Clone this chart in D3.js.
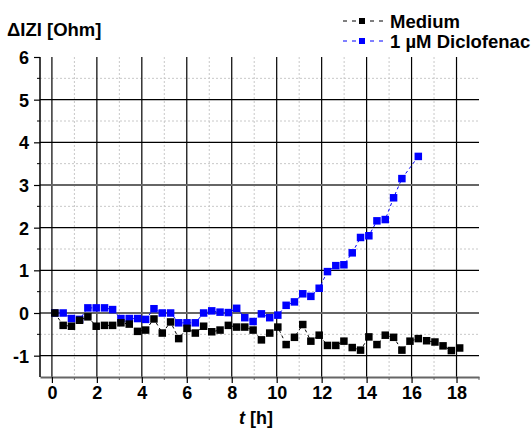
<!DOCTYPE html>
<html>
<head>
<meta charset="utf-8">
<script src="https://cdnjs.cloudflare.com/ajax/libs/d3/7.8.5/d3.min.js"></script>
<style>
	html, body { margin: 0; padding: 0; background: #fff; }
	svg text { font-family: Arial, "Liberation Sans", sans-serif; font-weight: bold; }
</style>
</head>
<body>
<div id="chart"></div>
<script>
// time points [h]
const times = [0.13, 0.50, 0.87, 1.23, 1.60, 1.97, 2.34, 2.70, 3.07, 3.44,
	3.81, 4.17, 4.54, 4.91, 5.28, 5.64, 6.01, 6.38, 6.75, 7.11,
	7.48, 7.85, 8.22, 8.58, 8.95, 9.32, 9.69, 10.05, 10.42, 10.79,
	11.16, 11.52, 11.89, 12.26, 12.63, 12.99, 13.36, 13.73, 14.10, 14.46,
	14.83, 15.20, 15.57, 15.93, 16.30, 16.67, 17.04, 17.40, 17.77, 18.14];

// delta |Z| [Ohm], Medium
const medium = [0, -0.29, -0.31, -0.17, -0.09, -0.31, -0.29, -0.29, -0.23, -0.26,
	-0.43, -0.40, -0.14, -0.47, -0.21, -0.60, -0.36, -0.47, -0.31, -0.44,
	-0.40, -0.29, -0.33, -0.33, -0.40, -0.63, -0.47, -0.33, -0.74, -0.57,
	-0.27, -0.66, -0.52, -0.76, -0.76, -0.66, -0.81, -0.87, -0.56, -0.74,
	-0.52, -0.57, -0.87, -0.66, -0.60, -0.65, -0.68, -0.77, -0.88, -0.82];

// delta |Z| [Ohm], 1 µM Diclofenac (no value at 15.93 h, ends at 16.30 h)
const diclofenac = [0, 0, -0.13, -0.15, 0.12, 0.12, 0.12, 0.08, -0.13, -0.13,
	-0.13, -0.15, 0.10, 0, 0, -0.23, -0.23, -0.23, 0, 0.05,
	0.02, 0.01, 0.11, -0.11, -0.20, -0.02, -0.11, -0.05, 0.18, 0.26,
	0.45, 0.39, 0.58, 0.97, 1.11, 1.13, 1.41, 1.77, 1.81, 2.16,
	2.19, 2.70, 3.15, null, 3.67];

const seriesNames = ['Medium', '1 µM Diclofenac'];
const seriesColors = ['#000000', '#0000ff'];

const xTicks = [0, 2, 4, 6, 8, 10, 12, 14, 16, 18];
const xMinorTicks = [1, 3, 5, 7, 9, 11, 13, 15, 17, 19];
const yTicks = [-1, 0, 1, 2, 3, 4, 5, 6];
const yMinorTicks = [-0.5, 0.5, 1.5, 2.5, 3.5, 4.5, 5.5];

const width = 532, height = 428;
const margin = {left: 40, right: 53, top: 57, bottom: 51};
const plotW = width - margin.left - margin.right,
	plotH = height - margin.top - margin.bottom;

const x = d3.scaleLinear().domain([-0.53, 19]).range([0, plotW]);
const y = d3.scaleLinear().domain([-1.5, 6]).range([plotH, 0]);

const svg = d3.select('#chart').append('svg')
	.attr('width', width)
	.attr('height', height);

const g = svg.append('g')
	.attr('transform', 'translate(' + margin.left + ',' + margin.top + ')');

// minor grid, dotted
g.append('g').selectAll('line').data(xMinorTicks.filter(d => d < 19)).join('line')
	.attr('x1', d => x(d)).attr('x2', d => x(d))
	.attr('y1', 0).attr('y2', plotH)
	.attr('stroke', '#c8c8c8').attr('stroke-dasharray', '2,2');
g.append('g').selectAll('line').data(yMinorTicks).join('line')
	.attr('x1', 0).attr('x2', plotW)
	.attr('y1', d => y(d)).attr('y2', d => y(d))
	.attr('stroke', '#c8c8c8').attr('stroke-dasharray', '2,2');

// major grid
g.append('g').selectAll('line').data(xTicks).join('line')
	.attr('x1', d => x(d)).attr('x2', d => x(d))
	.attr('y1', 0).attr('y2', plotH)
	.attr('stroke', '#000').attr('stroke-width', 1.2);
g.append('g').selectAll('line').data(yTicks.filter(d => d < 6)).join('line')
	.attr('x1', 0).attr('x2', plotW)
	.attr('y1', d => y(d)).attr('y2', d => y(d))
	.attr('stroke', d => (d === 0 || d === 3) ? '#666' : '#000')
	.attr('stroke-width', d => (d === 0 || d === 3) ? 2 : 1.2);

// x axis (gray line, ticks pointing down)
const xAxis = d3.axisBottom(x).tickValues(xTicks).tickSize(6).tickSizeOuter(0);
const gX = g.append('g')
	.attr('transform', 'translate(0,' + plotH + ')')
	.call(xAxis);
gX.select('.domain').attr('stroke', '#666').attr('stroke-width', 2);
gX.selectAll('.tick line').attr('stroke', '#000').attr('stroke-width', 1.2);
gX.selectAll('.tick text')
	.attr('font-size', 18).attr('font-family', null).attr('dy', '0.72em').attr('y', 9);
gX.append('g').selectAll('line').data(xMinorTicks).join('line')
	.attr('x1', d => x(d)).attr('x2', d => x(d))
	.attr('y1', 0).attr('y2', 3)
	.attr('stroke', '#666');

// y axis (black line, ticks pointing left)
const yAxis = d3.axisLeft(y).tickValues(yTicks).tickSize(6).tickSizeOuter(0);
const gY = g.append('g').call(yAxis);
gY.select('.domain').attr('stroke', '#000').attr('stroke-width', 1.5)
	.attr('d', 'M0,0V' + plotH);
gY.selectAll('.tick line').attr('stroke', '#000').attr('stroke-width', 1.2);
gY.selectAll('.tick text')
	.attr('font-size', 18).attr('font-family', null).attr('x', -11).attr('dy', '0.36em')
	.text(d => d < 0 ? '-' + Math.abs(d) : d);
gY.append('g').selectAll('line').data(yMinorTicks).join('line')
	.attr('x1', -3).attr('x2', 0)
	.attr('y1', d => y(d)).attr('y2', d => y(d))
	.attr('stroke', '#000');

// series: blue first so black sits on top
const series = [
	{name: seriesNames[1], color: seriesColors[1], values: diclofenac},
	{name: seriesNames[0], color: seriesColors[0], values: medium}
];

const line = d3.line()
	.defined(d => d.v !== null)
	.x(d => x(d.t))
	.y(d => y(d.v));

const ms = 7.5;
series.forEach(function (s) {
	const pts = s.values.map((v, i) => ({t: times[i], v: v})).filter(d => d.v !== null);
	g.append('path')
		.attr('d', line(pts))
		.attr('fill', 'none')
		.attr('stroke', s.color)
		.attr('stroke-width', 1)
		.attr('stroke-dasharray', '3,3');
	g.append('g').selectAll('rect').data(pts).join('rect')
		.attr('x', d => x(d.t) - ms / 2)
		.attr('y', d => y(d.v) - ms / 2)
		.attr('width', ms).attr('height', ms)
		.attr('fill', s.color);
});

// legend
const legend = svg.append('g');
seriesNames.forEach(function (name, i) {
	const ly = 21 + i * 20;
	legend.append('line')
		.attr('x1', 343).attr('x2', 388)
		.attr('y1', ly).attr('y2', ly)
		.attr('stroke', seriesColors[i]).attr('stroke-dasharray', '4,5');
	legend.append('rect')
		.attr('x', 362 - 3).attr('y', ly - 3)
		.attr('width', 6).attr('height', 6)
		.attr('fill', seriesColors[i]);
	legend.append('text')
		.attr('x', 390).attr('y', ly + 6.5)
		.attr('font-size', 18.5)
		.text(name);
});

// axis titles
svg.append('text')
	.attr('x', 7).attr('y', 36)
	.attr('font-size', 18.5)
	.text('ΔIZI [Ohm]');

const xTitle = svg.append('text')
	.attr('x', 256).attr('y', 424)
	.attr('text-anchor', 'middle')
	.attr('font-size', 18);
xTitle.append('tspan').attr('font-style', 'italic').text('t');
xTitle.append('tspan').text(' [h]');
</script>
</body>
</html>
